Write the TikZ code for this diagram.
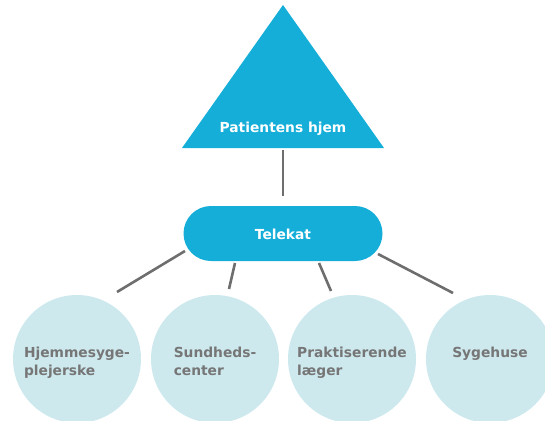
\documentclass[tikz,border=0pt]{standalone}
\usepackage{fontspec}
\setmainfont{DejaVu Sans}
\definecolor{tblue}{HTML}{14AED9}
\definecolor{tlight}{HTML}{CDE9EE}
\definecolor{tline}{HTML}{6E6E6E}
\definecolor{ttext}{HTML}{767676}
\tikzset{
  conn/.style={draw=tline, line width=2.6pt},
  circ/.style={circle, fill=tlight, minimum size=128pt, inner sep=0pt},
  lbl/.style={text=ttext, font=\fontsize{13.8}{18.5}\selectfont\bfseries, align=left, anchor=north, inner sep=0pt},
  wlbl/.style={text=white, font=\fontsize{13.8}{18.5}\selectfont\bfseries, inner sep=0pt},
}
\begin{document}
\begin{tikzpicture}[x=1pt,y=-1pt]
\useasboundingbox (0,0) rectangle (545,420);
\clip (0,0) rectangle (545,420);
% triangle
\fill[tblue] (283,5) -- (384,148) -- (182,148) -- cycle;
\node[wlbl, anchor=base] (home) at (283,132) {Patientens hjem};
% telekat
\node[fill=tblue, rounded corners=27.5pt, minimum width=199pt, minimum height=55pt, inner sep=0pt] (tele) at (283,233.5) {};
\node[wlbl, anchor=base] (telet) at (283,239) {Telekat};
% circles
\node[circ] (c1) at (77,359) {};
\node[circ] (c2) at (215,359) {};
\node[circ] (c3) at (352,359) {};
\node[circ] (c4) at (490,359) {};
\node[lbl] (t1) at (77,346.5) {Hjemmesyge-\\plejerske};
\node[lbl] (t2) at (215,346.5) {Sundheds-\\center};
\node[lbl] (t3) at (352,346.5) {Praktiserende\\læger};
\node[lbl] (t4) at (490,346.5) {Sygehuse};
% connector ends
\coordinate (h0) at (283,150);
\coordinate (h1) at (283,196);
\coordinate (a0) at (185,251);
\coordinate (a1) at (117,292);
\coordinate (b0) at (235,263);
\coordinate (b1) at (229,289);
\coordinate (d0) at (319,263);
\coordinate (d1) at (331,291);
\coordinate (e0) at (378,254);
\coordinate (e1) at (453,293);
\draw[conn] (h0) -- (h1);
\draw[conn] (a0) -- (a1);
\draw[conn] (b0) -- (b1);
\draw[conn] (d0) -- (d1);
\draw[conn] (e0) -- (e1);
\end{tikzpicture}
\end{document}
